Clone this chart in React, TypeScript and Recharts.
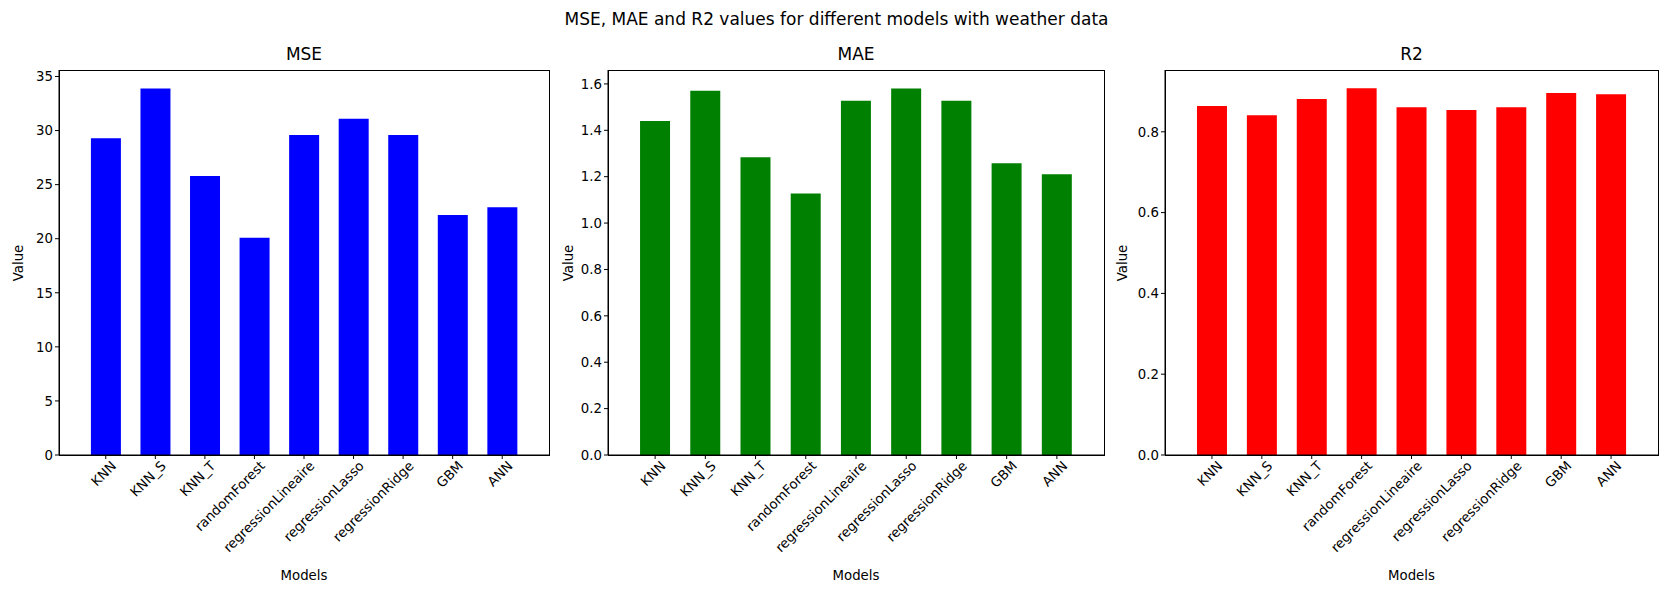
import { BarChart, Bar, XAxis, YAxis } from 'recharts'

const models = ['KNN', 'KNN_S', 'KNN_T', 'randomForest', 'regressionLineaire', 'regressionLasso', 'regressionRidge', 'GBM', 'ANN']
const mse = [29.3, 33.9, 25.8, 20.1, 29.6, 31.1, 29.6, 22.2, 22.9]
const mae = [1.44, 1.571, 1.284, 1.128, 1.527, 1.58, 1.527, 1.258, 1.21]
const r2 = [0.864, 0.841, 0.881, 0.908, 0.861, 0.854, 0.861, 0.896, 0.893]

const mseTicks = [0, 5, 10, 15, 20, 25, 30, 35]
const maeTicks = [0, 0.2, 0.4, 0.6, 0.8, 1.0, 1.2, 1.4, 1.6]
const r2Ticks = [0, 0.2, 0.4, 0.6, 0.8]

const font = 'DejaVu Sans, sans-serif'
const TOP = 70
const BOTTOM = 455

function RotTick({ x, y, payload }: any) {
  return (
    <text x={x} y={y} transform={`rotate(-45 ${x} ${y})`} textAnchor="end" dx={4} dy={12} fontSize={13.3} fill="#000" fontFamily={font}>
      {payload.value}
    </text>
  )
}

function Panel({ left, plotLeft, plotRight, labelX, title, values, ticks, max, color, fmt }: any) {
  const data = models.map((m, i) => ({ model: m, v: values[i] }))
  const width = plotRight - left + 10
  return (
    <>
      <div style={{ position: 'absolute', left, top: 0 }}>
        <BarChart width={width} height={599} data={data} margin={{ top: TOP, right: 10, left: 0, bottom: 0 }} barCategoryGap="20%">
          <XAxis dataKey="model" interval={0} height={599 - BOTTOM} tick={<RotTick />} tickSize={4} tickLine={{ stroke: '#000' }} axisLine={{ stroke: '#000' }} padding={{ left: 22, right: 22 }} />
          <YAxis width={plotLeft - left} domain={[0, max]} ticks={ticks} tickFormatter={fmt} tickSize={4} tickLine={{ stroke: '#000' }} axisLine={{ stroke: '#000' }} tick={{ fontSize: 13.3, fill: '#000', fontFamily: font }} />
          <Bar dataKey="v" fill={color} isAnimationActive={false} />
        </BarChart>
      </div>
      <div style={{ position: 'absolute', left: plotLeft, top: TOP, width: plotRight - plotLeft - 1, height: BOTTOM - TOP - 1, border: '1px solid #000', pointerEvents: 'none' }} />
      <div style={{ position: 'absolute', left: plotLeft, width: plotRight - plotLeft, top: 44, textAlign: 'center', fontSize: 17 }}>{title}</div>
      <div style={{ position: 'absolute', left: plotLeft, width: plotRight - plotLeft, top: 568, textAlign: 'center', fontSize: 13.3 }}>Models</div>
      <div style={{ position: 'absolute', left: labelX, top: (TOP + BOTTOM) / 2, fontSize: 13.3, whiteSpace: 'nowrap', transform: 'translate(-50%,-50%) rotate(-90deg)' }}>
        Value
      </div>
    </>
  )
}

export default function App() {
  return (
    <div style={{ position: 'absolute', left: 0, top: 0, width: 1673, height: 599, background: '#fff', fontFamily: font, color: '#000' }}>
      <div style={{ position: 'absolute', left: 0, width: 1673, top: 9, textAlign: 'center', fontSize: 17 }}>
        MSE, MAE and R2 values for different models with weather data
      </div>
      <Panel left={0} plotLeft={59} plotRight={549} labelX={18} title="MSE" values={mse} ticks={mseTicks} max={35.6} color="#0000ff" fmt={(v: number) => String(v)} />
      <Panel left={555} plotLeft={608} plotRight={1104} labelX={568} title="MAE" values={mae} ticks={maeTicks} max={1.66} color="#008000" fmt={(v: number) => v.toFixed(1)} />
      <Panel left={1110} plotLeft={1165} plotRight={1658} labelX={1122} title="R2" values={r2} ticks={r2Ticks} max={0.953} color="#ff0000" fmt={(v: number) => v.toFixed(1)} />
    </div>
  )
}
